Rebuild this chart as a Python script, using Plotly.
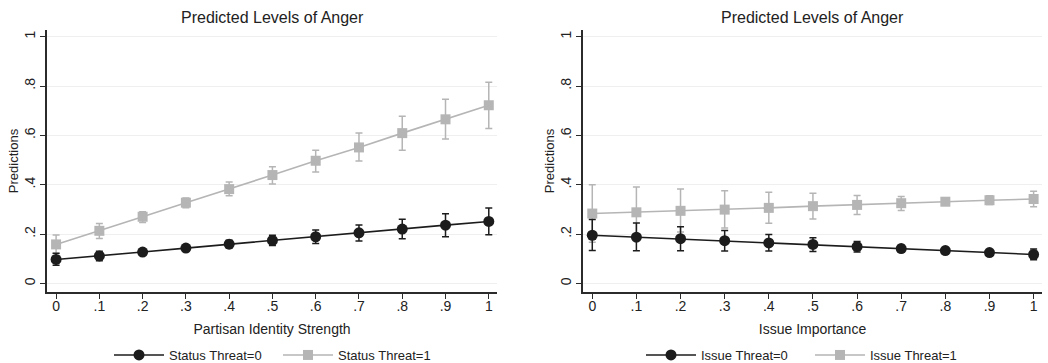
import plotly.graph_objects as go

# Grid of predictor values (both panels)
x_vals = [0, 0.1, 0.2, 0.3, 0.4, 0.5, 0.6, 0.7, 0.8, 0.9, 1.0]
x_tick_labels = ["0", ".1", ".2", ".3", ".4", ".5", ".6", ".7", ".8", ".9", "1"]
y_tick_vals = [0, 0.2, 0.4, 0.6, 0.8, 1.0]
y_tick_labels = ["0", ".2", ".4", ".6", ".8", "1"]

# Left panel: Partisan Identity Strength
status0_pred = [0.097, 0.111, 0.127, 0.143, 0.159, 0.174, 0.189, 0.205, 0.220, 0.236, 0.251]
status0_hi = [0.122, 0.130, 0.138, 0.153, 0.175, 0.195, 0.216, 0.237, 0.260, 0.282, 0.305]
status0_lo = [0.073, 0.092, 0.116, 0.133, 0.143, 0.153, 0.162, 0.172, 0.181, 0.189, 0.197]

status1_pred = [0.158, 0.213, 0.270, 0.327, 0.382, 0.439, 0.497, 0.551, 0.609, 0.665, 0.722]
status1_hi = [0.196, 0.243, 0.290, 0.346, 0.411, 0.473, 0.540, 0.609, 0.677, 0.746, 0.815]
status1_lo = [0.121, 0.182, 0.247, 0.306, 0.355, 0.403, 0.451, 0.496, 0.540, 0.585, 0.628]

# Right panel: Issue Importance
issue0_pred = [0.195, 0.187, 0.181, 0.173, 0.164, 0.158, 0.149, 0.141, 0.133, 0.125, 0.117]
issue0_hi = [0.259, 0.245, 0.229, 0.214, 0.198, 0.185, 0.170, 0.155, 0.145, 0.136, 0.139]
issue0_lo = [0.133, 0.132, 0.132, 0.131, 0.131, 0.129, 0.127, 0.127, 0.122, 0.115, 0.096]

issue1_pred = [0.283, 0.288, 0.294, 0.299, 0.306, 0.313, 0.318, 0.325, 0.331, 0.337, 0.342]
issue1_hi = [0.400, 0.391, 0.383, 0.375, 0.369, 0.365, 0.356, 0.352, 0.345, 0.355, 0.373]
issue1_lo = [0.167, 0.187, 0.208, 0.224, 0.244, 0.261, 0.279, 0.295, 0.318, 0.320, 0.311]

BLACK = "#1c1c1c"
GRAY = "#b5b5b5"
TEXT = "#222222"
FONT = "Liberation Sans, Arial, sans-serif"
W, H = 1048, 363


def series(x, pred, hi, lo, name, color, symbol, size, xa, ya, legend, rank):
    return go.Scatter(
        x=x, y=pred, name=name, mode="lines+markers",
        xaxis=xa, yaxis=ya, legend=legend, legendrank=rank,
        line=dict(color=color, width=1.6),
        marker=dict(color=color, symbol=symbol, size=size, line=dict(width=0)),
        error_y=dict(
            type="data", symmetric=False,
            array=[h - p for h, p in zip(hi, pred)],
            arrayminus=[p - l for p, l in zip(pred, lo)],
            color=color, thickness=1.5, width=3.5,
        ),
    )


fig = go.Figure()
fig.add_trace(series(x_vals, status1_pred, status1_hi, status1_lo, "Status Threat=1",
                     GRAY, "square", 10, "x", "y", "legend", 2))
fig.add_trace(series(x_vals, status0_pred, status0_hi, status0_lo, "Status Threat=0",
                     BLACK, "circle", 11, "x", "y", "legend", 1))
fig.add_trace(series(x_vals, issue1_pred, issue1_hi, issue1_lo, "Issue Threat=1",
                     GRAY, "square", 10, "x2", "y2", "legend2", 2))
fig.add_trace(series(x_vals, issue0_pred, issue0_hi, issue0_lo, "Issue Threat=0",
                     BLACK, "circle", 11, "x2", "y2", "legend2", 1))

y_bottom = 1 - 292 / H
y_top = 1 - 30 / H
left_dom = [47 / W, 497 / W]
right_dom = [583 / W, 1042 / W]

xaxis_common = dict(
    range=[-0.021, 1.019], tickvals=x_vals, ticktext=x_tick_labels,
    showline=True, linecolor="#2b2b2b", linewidth=1.6, mirror=False,
    ticks="outside", ticklen=5, tickwidth=1.2, tickcolor="#2b2b2b",
    ticklabelstandoff=-5,
    showgrid=False, zeroline=False, automargin=False,
    tickfont=dict(size=14, color=TEXT), title_font=dict(size=14, color=TEXT),
    title_standoff=12,
)
yaxis_common = dict(
    range=[-0.035, 1.027], tickvals=y_tick_vals, ticktext=y_tick_labels,
    tickangle=-90,
    showline=True, linecolor="#2b2b2b", linewidth=1.6,
    ticks="outside", ticklen=5, tickwidth=1.2, tickcolor="#2b2b2b",
    showgrid=True, gridcolor="#efefef", gridwidth=1, zeroline=False,
    automargin=False,
    tickfont=dict(size=14, color=TEXT), title_font=dict(size=13, color=TEXT),
    title_text="Predictions", title_standoff=0,
    domain=[y_bottom, y_top],
)

legend_common = dict(orientation="h", xanchor="center", y=1 - 355 / H,
                     yanchor="middle", font=dict(size=13, color=TEXT),
                     bgcolor="rgba(0,0,0,0)", itemwidth=50, entrywidth=104)

fig.update_layout(
    width=W, height=H,
    margin=dict(l=0, r=0, t=0, b=0, autoexpand=False),
    paper_bgcolor="white", plot_bgcolor="white",
    font=dict(family=FONT, size=13, color=TEXT),
    xaxis=dict(xaxis_common, domain=left_dom, anchor="y",
               title_text="Partisan Identity Strength"),
    yaxis=dict(yaxis_common, anchor="x"),
    xaxis2=dict(xaxis_common, domain=right_dom, anchor="y2",
                title_text="Issue Importance"),
    yaxis2=dict(yaxis_common, anchor="x2"),
    legend=dict(legend_common, x=278 / W),
    legend2=dict(legend_common, x=810 / W),
    showlegend=True,
    annotations=[
        dict(text="Predicted Levels of Anger", x=sum(left_dom) / 2, y=1 - 17 / H,
             xref="paper", yref="paper", showarrow=False,
             font=dict(size=16, color=TEXT), xanchor="center", yanchor="middle"),
        dict(text="Predicted Levels of Anger", x=sum(right_dom) / 2, y=1 - 17 / H,
             xref="paper", yref="paper", showarrow=False,
             font=dict(size=16, color=TEXT), xanchor="center", yanchor="middle"),
    ],
)

fig.write_html("out.html")
